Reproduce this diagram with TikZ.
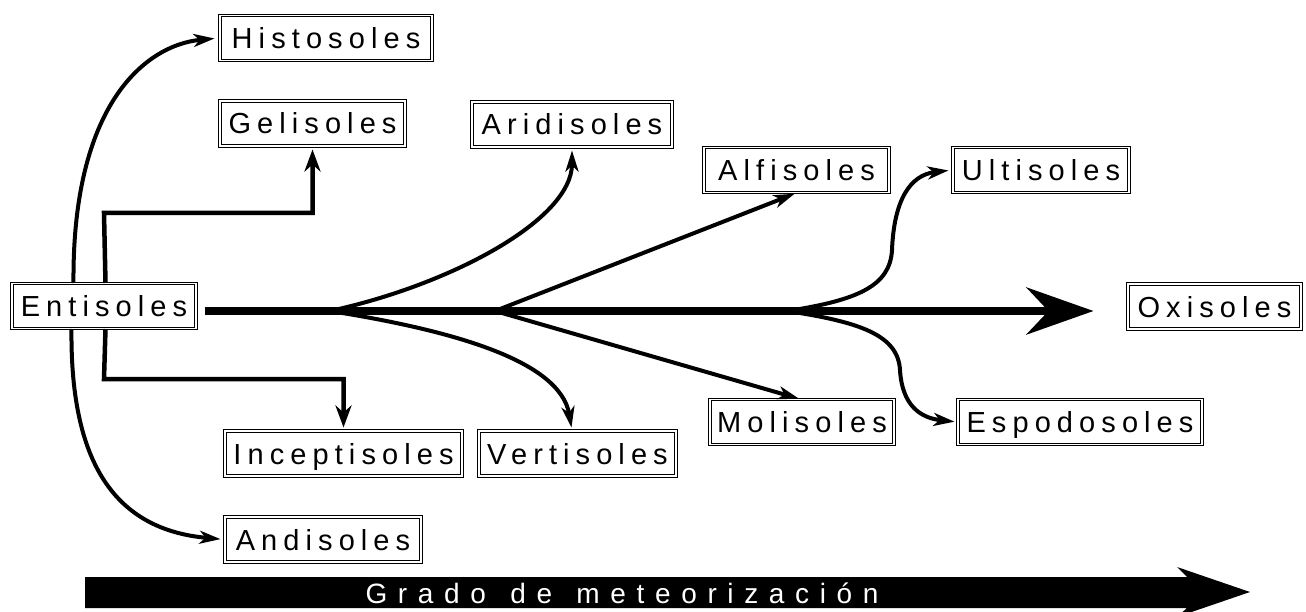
\documentclass[tikz,border=0pt]{standalone}
\usepackage{fontspec}
\setmainfont{Liberation Sans}[LetterSpace=21]
\newfontfamily\barfont{Liberation Sans}[LetterSpace=38]
\usetikzlibrary{arrows.meta}
\begin{document}
\begin{tikzpicture}[x=1pt,y=-1pt,
  soil/.style={draw, line width=1pt, double=white, double distance=1.5pt,
    fill=white, inner sep=0pt, text height=21pt, text depth=0pt,
    font=\fontsize{29}{33}\selectfont, minimum height=45pt},
  thin/.style={line width=4pt, -{Stealth[length=21pt,width=13pt,inset=6pt]}},
  elbow/.style={line width=4.5pt, -{Stealth[length=22pt,width=16pt,inset=7pt]}},
  mainarrow/.style={line width=8pt, -{Stealth[length=67pt,width=47pt,inset=22pt]}}]
\useasboundingbox (0,0) rectangle (1306,612);

% boxes
\node[soil, minimum width=212pt] (histo) at (326,38) {Histosoles};
\node[soil, minimum width=185pt] (geli)  at (312.5,123.5) {Gelisoles};
\node[soil, minimum width=200pt] (aridi) at (572,124.5) {Aridisoles};
\node[soil, minimum width=185pt] (alfi)  at (796.5,170) {Alfisoles};
\node[soil, minimum width=176pt] (ulti)  at (1041,170) {Ultisoles};
\node[soil, minimum width=184pt] (enti)  at (104,306) {Entisoles};
\node[soil, minimum width=173pt] (oxi)   at (1214.5,306.5) {Oxisoles};
\node[soil, minimum width=184pt] (moli)  at (802,422) {Molisoles};
\node[soil, minimum width=244pt] (espo)  at (1080,422) {Espodosoles};
\node[soil, minimum width=237pt] (incep) at (343.5,453.5) {Inceptisoles};
\node[soil, minimum width=197pt] (verti) at (577.5,453.5) {Vertisoles};
\node[soil, minimum width=196pt] (andi)  at (323,539.5) {Andisoles};

% branch points
\coordinate (b1) at (330,311);
\coordinate (b2) at (495,311);
\coordinate (b3) at (787,311);
\coordinate (g1) at (104,213);
\coordinate (i1) at (104,379);

% main arrow
\draw[mainarrow, shorten <=8pt, shorten >=34pt] (enti.east |- 0,311) -- (oxi.west |- 0,311);

% left curves
\draw[thin, shorten >=5pt] ([xshift=62pt]enti.north west) .. controls (72,105) and (145,45) .. (histo.west);
\draw[thin, shorten >=4pt] ([xshift=60pt]enti.south west) .. controls (70,470) and (120,530) .. (andi.west);

% elbows
\draw[elbow, shorten >=3pt] ([xshift=94pt]enti.north west) -- (g1) -| (geli.south);
\draw[elbow, shorten >=3pt] ([xshift=94pt]enti.south west) -- (i1) -| (incep.north);

% branches
\draw[thin, shorten >=3pt] (b1) .. controls (450,285) and (572,220) .. (aridi.south);
\draw[thin, shorten >=3pt] (b1) .. controls (450,330) and (560,360) .. ([xshift=-5.5pt]verti.north);
\draw[thin, shorten >=2pt] (b2) -- (alfi.south);
\draw[thin, shorten >=1pt] (b2) -- ([xshift=-2pt]moli.north);
\draw[thin, shorten >=4pt] (b3) .. controls (860,300) and (890,285) .. (892,250)
   .. controls (894,200) and (910,175) .. (ulti.west);
\draw[thin, shorten >=3pt] (b3) .. controls (860,322) and (898,335) .. (900,370)
   .. controls (902,405) and (920,418) .. (espo.west);

% bottom bar
\fill (85,577) -- (1187,577) -- (1177,567) -- (1250,592) -- (1177,617) -- (1187,608) -- (85,608) -- cycle;
\node[anchor=base, text=white, inner sep=0pt, font=\barfont\fontsize{28}{32}\selectfont] (grado) at (622,603) {Grado\hspace{6pt} de\hspace{6pt} meteorización};
\end{tikzpicture}
\end{document}
